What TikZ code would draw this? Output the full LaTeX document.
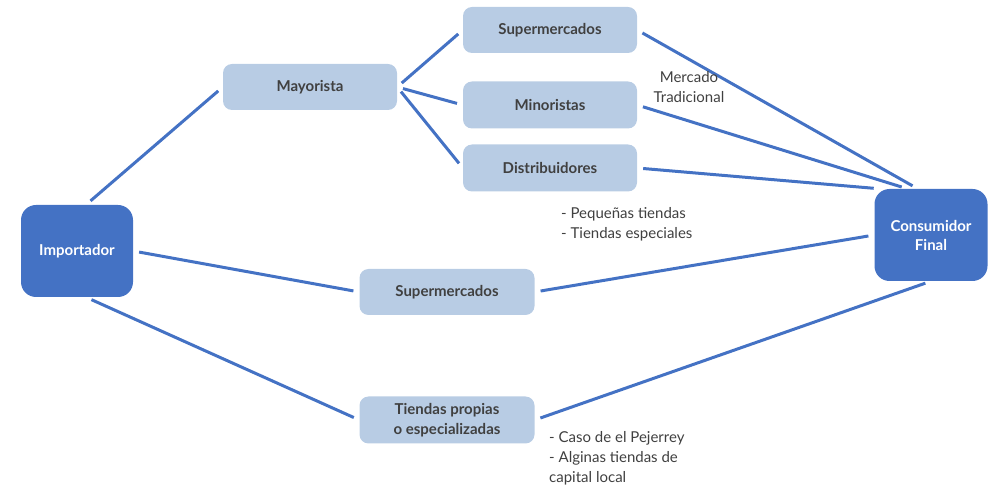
\documentclass[tikz,border=0pt]{standalone}
\usepackage{fontspec}
\setmainfont{Lato}
\usepackage{tikz}

\definecolor{azul}{RGB}{68,114,196}
\definecolor{celeste}{RGB}{184,204,228}
\definecolor{gris}{RGB}{64,64,64}

\tikzset{
  darkbox/.style={rectangle, rounded corners=15pt, fill=azul, text=white, font=\bfseries\fontsize{15}{19}\selectfont, minimum width=112pt, minimum height=92pt, align=center},
  lightbox/.style={rectangle, rounded corners=9pt, fill=celeste, text=gris, font=\bfseries\fontsize{15}{20}\selectfont, minimum width=174pt, minimum height=46pt, align=center},
  link/.style={draw=azul, line width=3pt, shorten >=6pt, shorten <=6pt},
  note/.style={text=gris, font=\fontsize{15}{20}\selectfont, inner sep=0pt}
}

\begin{document}
\begin{tikzpicture}[x=1pt,y=-1pt]

\useasboundingbox (0,0) rectangle (997,486);

\node[darkbox] (imp) at (77,251) {Importador};
\node[darkbox, minimum width=113pt] (cons) at (931,235) {Consumidor\\Final};

\node[lightbox] (mayo) at (310,87) {Mayorista};
\node[lightbox] (sup1) at (550,30) {Supermercados};
\node[lightbox, minimum height=47pt] (mino) at (550,105) {Minoristas};
\node[lightbox, minimum height=47pt] (dist) at (550,168) {Distribuidores};
\node[lightbox, minimum width=175pt] (sup2) at (447,292) {Supermercados};
\node[lightbox, minimum width=175pt, minimum height=47pt] (tien) at (447,420) {Tiendas propias\\o especializadas};

% canal tradicional
\draw[link] (imp.79) -- (mayo.west);
\draw[link] (mayo.east) -- (sup1.west);
\draw[link] (mayo.east) -- (mino.west);
\draw[link] (mayo.east) -- (dist.west);
\draw[link] (sup1.east) -- (cons.106);
\draw[link] (mino.east) -- (cons.117);
\draw[link] (dist.east) -- (cons.138);

% canal directo
\draw[link] (imp.east) -- (sup2.west);
\draw[link] (sup2.east) -- (cons.west);
\draw[link] (imp.281) -- (tien.west);
\draw[link] (tien.east) -- (cons.south);

\node[note, align=center] (trad) at (689,87) {Mercado\\Tradicional};
\node[note, align=left, anchor=west] (peq) at (561,224) {- Pequeñas tiendas\\- Tiendas especiales};
\node[note, align=left, anchor=west] (caso) at (549,458) {- Caso de el Pejerrey\\- Alginas tiendas de\\capital local};

\end{tikzpicture}
\end{document}
